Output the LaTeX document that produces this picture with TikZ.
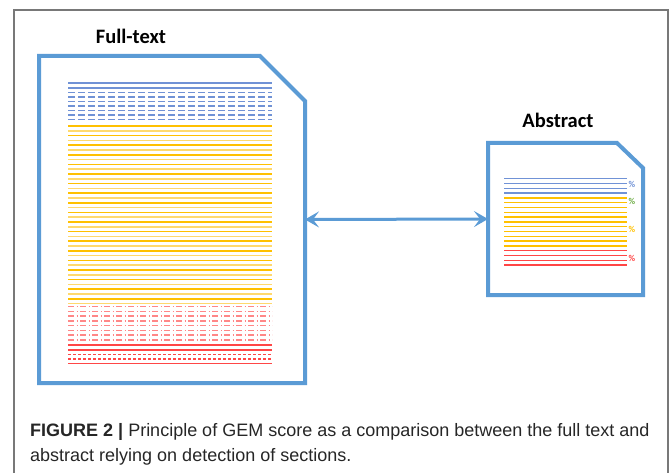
\documentclass[tikz,border=0pt]{standalone}
\usepackage{fontspec}
\setmainfont{Liberation Sans}
\newfontfamily\calfont{Carlito}
\usepackage{xcolor}
\definecolor{docblue}{RGB}{91,155,213}
\definecolor{lnblue}{RGB}{112,146,214}
\definecolor{lnbluepale}{RGB}{160,184,232}
\definecolor{lnyellow}{RGB}{255,192,0}
\definecolor{lnyellowpale}{RGB}{255,217,110}
\definecolor{lnred}{RGB}{255,70,70}
\definecolor{lnredpale}{RGB}{255,135,135}
\definecolor{pctgreen}{RGB}{112,173,71}
\definecolor{framegray}{RGB}{120,120,120}
\usetikzlibrary{arrows.meta,positioning}

\begin{document}
\begin{tikzpicture}[x=1pt, y=-1pt,
    docframe/.style={rectangle, inner sep=0pt, outer sep=0pt, draw=none},
    docline/.style={draw=docblue, line width=4pt, line join=miter},
    doctitle/.style={font=\calfont\bfseries\fontsize{20.5}{24}\selectfont, anchor=base},
    txt/.style={line width=1.5pt},
    pct/.style={font=\calfont\bfseries\fontsize{9}{9}\selectfont, inner sep=0pt},
    arrow/.style={{Stealth[length=14pt, width=16pt, inset=6pt]}-{Stealth[length=14pt, width=16pt, inset=6pt]}, line width=3pt, docblue},
    caption/.style={anchor=base west, inner sep=0pt, font=\fontsize{18}{25}\selectfont, text=black!85}
  ]
  \useasboundingbox (0,0) rectangle (672,473);
  % outer frame
  \draw[framegray, line width=1.5pt] (14,473) -- (14,10) -- (668,10) -- (668,473);

  % documents
  \node[docframe, minimum width=266pt, minimum height=327pt] (full) at (172,219.5) {};
  \node[docframe, minimum width=155pt, minimum height=152pt] (abs)  at (565.5,219) {};
  \draw[docline] (full.south west) -- (full.north west) -- ([xshift=-45pt]full.north east)
    -- ([yshift=-45pt]full.north east) -- (full.south east) -- cycle;
  \draw[docline] (abs.south west) -- (abs.north west) -- ([xshift=-26pt]abs.north east)
    -- ([yshift=-25pt]abs.north east) -- (abs.south east) -- cycle;

  \node[doctitle] (fulltitle) at (131,44) {Full-text};
  \node[doctitle] (abstitle)  at (558,128) {Abstract};

  % full text: sections
  \foreach \y in {83,88}
    \draw[txt, lnblue] (68,\y) -- (272,\y);
  \foreach \i in {0,...,6}
    \draw[txt, lnblue, dash pattern=on 7pt off 3pt] (68,92.5+4.5*\i) -- (272,92.5+4.5*\i);
  \foreach \i in {0,...,37} {
    \ifodd\i \def\lc{lnyellowpale}\else\def\lc{lnyellow}\fi
    \draw[txt, \lc] (68,126+4.8*\i) -- (272,126+4.8*\i);
  }
  \foreach \i in {0,...,7}
    \draw[txt, lnredpale, dash pattern=on 6pt off 2.5pt on 1.5pt off 2pt] (68,306.7+4.75*\i) -- (272,306.7+4.75*\i);
  \foreach \y in {345,350,363.5}
    \draw[txt, lnred] (68,\y) -- (272,\y);
  \foreach \y in {354.5,359}
    \draw[txt, lnred, dash pattern=on 3pt off 2pt] (68,\y) -- (272,\y);

  % abstract
  \foreach \i in {0,...,18} {
    \ifnum\i<4 \def\lc{lnblue}\else\ifnum\i<15 \def\lc{lnyellow}\else\def\lc{lnred}\fi\fi
    \draw[txt, \lc] (504,178.7+4.8*\i) -- (627,178.7+4.8*\i);
  }
  \node[pct, text=lnblue]    (pctblue)   at (632,184) {\%};
  \node[pct, text=pctgreen]  (pctgreen)  at (632,201) {\%};
  \node[pct, text=lnyellow]  (pctyellow) at (632,229) {\%};
  \node[pct, text=lnred]     (pctred)    at (632,258) {\%};

  \draw[arrow] (full.east) -- (abs.west);

  \node[caption] (cap1) at (30,436) {\textbf{FIGURE 2 |} Principle of GEM score as a comparison between the full text and};
  \node[caption] (cap2) at (30,461) {abstract relying on detection of sections.};
\end{tikzpicture}
\end{document}
